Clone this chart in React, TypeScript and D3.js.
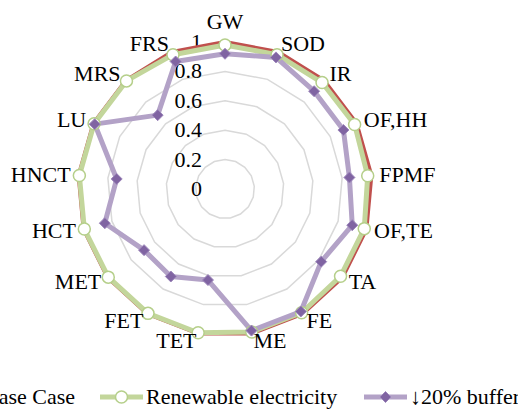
import React from "react";
import * as d3 from "d3";

const categories = ["GW", "SOD", "IR", "OF,HH", "FPMF", "OF,TE", "TA", "FE", "ME", "TET", "FET", "MET", "HCT", "HNCT", "LU", "MRS", "FRS"];
const baseCase = [1, 1, 1, 1, 1, 1, 1, 1, 1, 1, 1, 1, 1, 1, 1, 1, 1];
const renewable = [0.98, 0.98, 0.98, 0.985, 0.975, 0.985, 0.985, 0.99, 0.99, 0.995, 0.995, 0.995, 0.995, 0.995, 0.995, 0.995, 0.98];
const buffer20 = [0.92, 0.96, 0.9, 0.9, 0.85, 0.9, 0.82, 0.98, 0.98, 0.63, 0.7, 0.69, 0.85, 0.74, 0.99, 0.68, 0.93];
const ticks = [0, 0.2, 0.4, 0.6, 0.8, 1];
const seriesNames = ["Base Case", "Renewable electricity", "\u219320% buffer"];

const width = 518;
const height = 409;
const cx = 225;
const cy = 189;
const R = 147;
const font = "'Liberation Serif', 'Times New Roman', serif";
const fs = 22;

export default function App() {
  const n = categories.length;
  const r = d3.scaleLinear().domain([0, 1]).range([0, R]);
  const angle = d3
    .scaleLinear()
    .domain([0, n])
    .range([0, 2 * Math.PI]);

  const radial = d3
    .lineRadial<number>()
    .angle((d, i) => angle(i))
    .radius((d) => r(d))
    .curve(d3.curveLinearClosed);

  const pt = (v: number, i: number) => {
    const a = angle(i);
    return [cx + r(v) * Math.sin(a), cy - r(v) * Math.cos(a)];
  };

  // legend item starts (line start x)
  const legendX = [-62, 100, 364];
  const legendY = 397;
  const colors = ["#c0504d", "#c3d69b", "#b3a2c7"];

  const diamond = (x: number, y: number, s: number) =>
    `M${x},${y - s}L${x + s},${y}L${x},${y + s}L${x - s},${y}Z`;

  return (
    <svg
      width={width}
      height={height}
      style={{ position: "absolute", left: 0, top: 0 }}
      fontFamily={font}
      fontSize={fs}
    >
      <rect width={width} height={height} fill="#fff" />
      {/* grid rings */}
      <g transform={`translate(${cx},${cy})`} fill="none" stroke="#d9d9d9" strokeWidth={1.5}>
        {ticks.slice(1).map((t) => (
          <path key={t} d={radial(categories.map(() => t)) || ""} />
        ))}
      </g>
      {/* tick labels */}
      <g textAnchor="end" fill="#000">
        {ticks.map((t) => (
          <text key={t} x={cx - 23} y={cy - r(t) + 7}>
            {String(t)}
          </text>
        ))}
      </g>
      {/* series */}
      <g transform={`translate(${cx},${cy})`} fill="none" strokeLinejoin="round">
        <path d={radial(baseCase) || ""} stroke={colors[0]} strokeWidth={4} />
        <path d={radial(renewable) || ""} stroke={colors[1]} strokeWidth={5} />
        <path d={radial(buffer20) || ""} stroke={colors[2]} strokeWidth={5} />
      </g>
      <g>
        {renewable.map((v, i) => {
          const [x, y] = pt(v, i);
          return <circle key={i} cx={x} cy={y} r={6} fill="#fff" stroke="#b5cf8a" strokeWidth={1.5} />;
        })}
      </g>
      <g>
        {buffer20.map((v, i) => {
          const [x, y] = pt(v, i);
          return <path key={i} d={diamond(x, y, 5.5)} fill="#8064a2" stroke="#9d87bb" strokeWidth={1} />;
        })}
      </g>
      {/* axis labels */}
      <g fill="#000">
        {categories.map((c, i) => {
          const a = angle(i);
          const s = Math.sin(a);
          const co = Math.cos(a);
          const x = cx + (R + 8) * s;
          const y = cy - (R + 8) * co;
          if (Math.abs(s) < 0.05) {
            return (
              <text key={c} x={x} y={co > 0 ? y - 5 : y + 20} textAnchor="middle">
                {c}
              </text>
            );
          }
          return (
            <text key={c} x={x} y={y + 7} textAnchor={s > 0 ? "start" : "end"}>
              {c}
            </text>
          );
        })}
      </g>
      {/* legend */}
      <g>
        {seriesNames.map((name, i) => {
          const x0 = legendX[i];
          const mid = x0 + 21.5;
          return (
            <g key={name}>
              <line x1={x0} x2={x0 + 43} y1={legendY} y2={legendY} stroke={colors[i]} strokeWidth={i === 0 ? 4 : 5} />
              {i === 1 && <circle cx={mid} cy={legendY} r={6} fill="#fff" stroke="#b5cf8a" strokeWidth={1.5} />}
              {i === 2 && <path d={diamond(mid, legendY, 5.5)} fill="#8064a2" stroke="#9d87bb" strokeWidth={1} />}
              <text x={x0 + 46} y={legendY + 7}>
                {name}
              </text>
            </g>
          );
        })}
      </g>
    </svg>
  );
}
